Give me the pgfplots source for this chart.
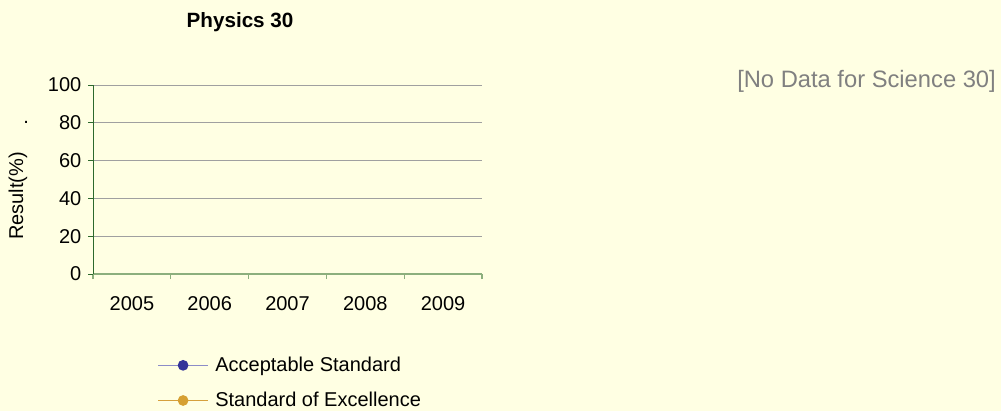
\documentclass[border=0pt]{standalone}
\usepackage{pgfplots}
\pgfplotsset{compat=1.18}
\usepackage{fontspec}
\setmainfont{Liberation Sans}
\definecolor{bgyellow}{RGB}{255,255,227}
\definecolor{ygreen}{RGB}{45,105,45}
\definecolor{xgreen}{RGB}{140,175,125}
\definecolor{gridgray}{RGB}{160,160,160}
\definecolor{accline}{RGB}{140,140,200}
\definecolor{accmark}{RGB}{51,51,153}
\definecolor{excline}{RGB}{214,160,60}
\definecolor{excmark}{RGB}{214,160,50}
\definecolor{notegray}{RGB}{128,128,128}
\begin{document}
\begin{tikzpicture}
\path[use as bounding box, fill=bgyellow] (0,0) rectangle (750.75pt,308.25pt);
\begin{axis}[
  at={(69.75pt,102.75pt)}, anchor=south west,
  scale only axis, width=291.75pt, height=141.75pt,
  clip=false,
  xmin=-0.5, xmax=4.5, ymin=0, ymax=100,
  axis x line*=bottom, axis y line*=left,
  x axis line style={color=xgreen, line width=0.9pt, -},
  y axis line style={color=ygreen, line width=0.6pt, -},
  xtick={-0.5,0.5,1.5,2.5,3.5,4.5}, xticklabels={},
  extra x ticks={0,1,2,3,4},
  extra x tick labels={2005,2006,2007,2008,2009},
  extra x tick style={major tick length=0pt, grid=none, tick label style={yshift=-13.5pt}},
  ytick={0,20,40,60,80,100},
  tick align=outside, major tick length=3.75pt,
  x tick style={color=xgreen, line width=0.8pt},
  y tick style={color=ygreen, line width=0.6pt},
  yticklabel style={xshift=-1.5pt},
  ymajorgrids, grid style={color=gridgray, line width=0.7pt},
  /pgf/number format/assume math mode=true,
  tick label style={font=\fontsize{15}{18}\selectfont, text=black},
  ylabel={Result(\%)},
  ylabel style={at={(axis description cs:-0.193,0.413)}, anchor=center, font=\fontsize{15}{18}\selectfont},
  title={Physics 30},
  title style={at={(axis description cs:0.378,1.292)}, anchor=center, font=\fontsize{15.5}{18}\selectfont\bfseries},
  legend style={at={(axis description cs:0.155,-0.41)}, anchor=north west, draw=none, fill=none,
    font=\fontsize{15}{18}\selectfont, row sep=10pt, legend cell align=left},
  legend image code/.code={\draw[mark repeat=2,mark phase=2,#1] plot coordinates {(0pt,0pt) (18.75pt,0pt) (37.5pt,0pt)}; \path (40.5pt,0pt);},
]
\addlegendimage{color=accline, line width=0.8pt, mark=*, mark size=3.6pt, mark options={fill=accmark, draw=accmark}}
\addlegendentry{Acceptable Standard}
\addlegendimage{color=excline, line width=0.8pt, mark=*, mark size=3.6pt, mark options={fill=excmark, draw=excmark}}
\addlegendentry{Standard of Excellence}
\node[anchor=center, font=\fontsize{15}{18}\selectfont] at (axis description cs:-0.172,0.80) {.};
\node[anchor=west, inner sep=0pt, text=notegray, font=\fontsize{17.8}{21}\selectfont] at (axis description cs:1.6555,1.021) {[No Data for Science 30]};
\end{axis}
\end{tikzpicture}
\end{document}
